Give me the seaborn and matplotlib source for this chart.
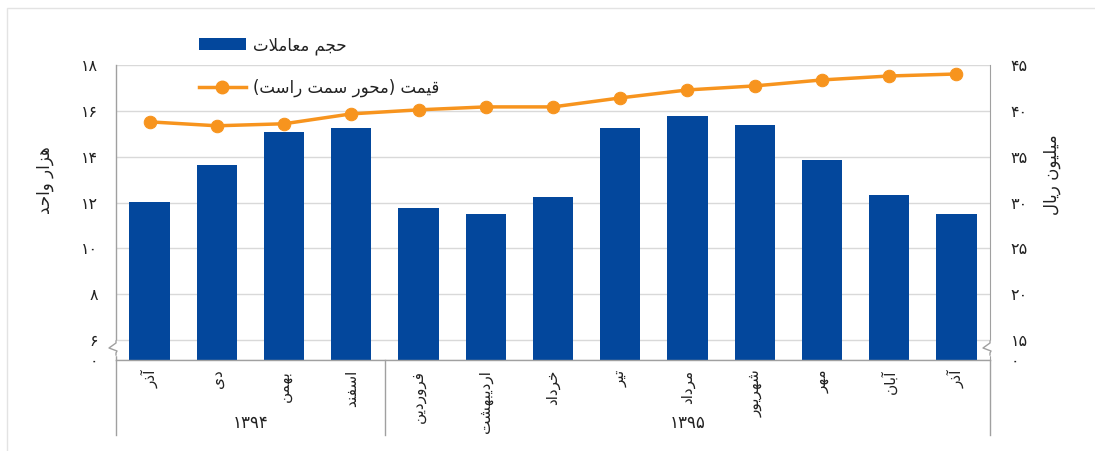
import matplotlib
matplotlib.use('Agg')
import matplotlib.pyplot as plt
import matplotlib.transforms as mtransforms
from matplotlib.patches import Patch, Rectangle
from matplotlib.lines import Line2D
import numpy as np
import pandas as pd
import seaborn as sns

# ---------------- data ----------------
months = ['آذر', 'دی', 'بهمن', 'اسفند', 'فروردین', 'اردیبهشت', 'خرداد',
          'تیر', 'مرداد', 'شهریور', 'مهر', 'آبان', 'آذر']
years = ['۱۳۹۴', '۱۳۹۵']
year_first_idx = [0, 4]
year_last_idx = [3, 12]
volume = [12.04, 13.65, 15.09, 15.26, 11.78, 11.48, 12.26, 15.26, 15.78, 15.39, 13.87, 12.35, 11.52]
price = [38.80, 38.37, 38.59, 39.67, 40.11, 40.43, 40.43, 41.41, 42.28, 42.72, 43.37, 43.80, 44.02]
left_ticks = [6, 8, 10, 12, 14, 16, 18]
right_ticks = [15, 20, 25, 30, 35, 40, 45]
series_names = ['حجم معاملات', 'قیمت (محور سمت راست)']
axis_titles = ['هزار واحد', 'میلیون ریال']

BLUE = '#03479C'
ORANGE = '#F7941E'
GRID = '#d9d9d9'
SPINE = '#a0a0a0'

# ---------------- minimal Arabic-script shaping ----------------
FORMS = {
    'ا': (0xFE8D, 0xFE8E, None, None),
    'آ': (0xFE81, 0xFE82, None, None),
    'ب': (0xFE8F, 0xFE90, 0xFE91, 0xFE92),
    'ت': (0xFE95, 0xFE96, 0xFE97, 0xFE98),
    'ج': (0xFE9D, 0xFE9E, 0xFE9F, 0xFEA0),
    'ح': (0xFEA1, 0xFEA2, 0xFEA3, 0xFEA4),
    'خ': (0xFEA5, 0xFEA6, 0xFEA7, 0xFEA8),
    'د': (0xFEA9, 0xFEAA, None, None),
    'ذ': (0xFEAB, 0xFEAC, None, None),
    'ر': (0xFEAD, 0xFEAE, None, None),
    'ز': (0xFEAF, 0xFEB0, None, None),
    'س': (0xFEB1, 0xFEB2, 0xFEB3, 0xFEB4),
    'ش': (0xFEB5, 0xFEB6, 0xFEB7, 0xFEB8),
    'ع': (0xFEC9, 0xFECA, 0xFECB, 0xFECC),
    'ف': (0xFED1, 0xFED2, 0xFED3, 0xFED4),
    'ق': (0xFED5, 0xFED6, 0xFED7, 0xFED8),
    'ل': (0xFEDD, 0xFEDE, 0xFEDF, 0xFEE0),
    'م': (0xFEE1, 0xFEE2, 0xFEE3, 0xFEE4),
    'ن': (0xFEE5, 0xFEE6, 0xFEE7, 0xFEE8),
    'ه': (0xFEE9, 0xFEEA, 0xFEEB, 0xFEEC),
    'و': (0xFEED, 0xFEEE, None, None),
    'ی': (0xFBFC, 0xFBFD, 0xFBFE, 0xFBFF),
}
LAMALEF = {'ا': (0xFEFB, 0xFEFC), 'آ': (0xFEF5, 0xFEF6)}


def shape(s):
    out = []
    i, n = 0, len(s)
    while i < n:
        c = s[i]
        if c not in FORMS:
            out.append(c)
            i += 1
            continue
        prev = s[i - 1] if i > 0 else None
        join_prev = prev in FORMS and FORMS[prev][2] is not None
        if c == 'ل' and i + 1 < n and s[i + 1] in LAMALEF:
            iso, fin = LAMALEF[s[i + 1]]
            out.append(chr(fin if join_prev else iso))
            i += 2
            continue
        nxt = s[i + 1] if i + 1 < n else None
        iso, fin, ini, med = FORMS[c]
        join_next = ini is not None and nxt in FORMS
        if join_prev and join_next:
            g = med
        elif join_prev:
            g = fin
        elif join_next:
            g = ini
        else:
            g = iso
        out.append(chr(g))
        i += 1
    mirror = {'(': ')', ')': '('}
    return ''.join(mirror.get(ch, ch) for ch in reversed(out))


def fa(num):
    return str(num).translate(str.maketrans('0123456789', '۰۱۲۳۴۵۶۷۸۹'))


# ---------------- figure ----------------
plt.rcParams['font.family'] = ['DejaVu Sans']
W, H = 1095, 451
fig = plt.figure(figsize=(W / 100, H / 100), dpi=100)
L, R, T, B = 116, 990, 65, 360
ax = fig.add_axes([L / W, 1 - B / H, (R - L) / W, (B - T) / H])

df = pd.DataFrame({'idx': np.arange(len(months)), 'volume': volume, 'price': price})
sns.barplot(data=df, x='idx', y='volume', color=BLUE, width=0.6, ax=ax,
            saturation=1, zorder=2)
for p in ax.patches:
    p.set_edgecolor('none')

ymin_l = 6 - (B - 340) / 46 * 2
ax.set_ylim(ymin_l, 18)
ax.set_xlim(-0.5, len(months) - 0.5)
ax.set_yticks([ymin_l] + left_ticks)
ax.set_yticklabels([fa(0)] + [fa(t) for t in left_ticks], fontsize=11.5, color='#222222')
ax.set_xticks(range(len(months)))
ax.set_xticklabels([shape(m) for m in months], rotation=90, fontsize=11, color='#222222')
ax.tick_params(axis='both', length=0)
ax.tick_params(axis='y', pad=13)
ax.tick_params(axis='x', pad=7)
ax.set_xlabel('')
ax.set_ylabel('')
ax.grid(axis='y', color=GRID, lw=1, zorder=0)
ax.set_axisbelow(True)
for side in ['top', 'right']:
    ax.spines[side].set_visible(False)
for side in ['left', 'bottom']:
    ax.spines[side].set_color(SPINE)
    ax.spines[side].set_linewidth(1)

ax2 = ax.twinx()
sns.lineplot(data=df, x='idx', y='price', ax=ax2, color=ORANGE, lw=2.5,
             marker='o', markersize=9, markeredgecolor=ORANGE, markerfacecolor=ORANGE)
ymin_r = 15 - (B - 340) / 46 * 5
ax2.set_ylim(ymin_r, 45)
ax2.set_xlim(-0.5, len(months) - 0.5)
ax2.set_yticks([ymin_r] + right_ticks)
ax2.set_yticklabels([fa(0)] + [fa(t) for t in right_ticks], fontsize=11.5, color='#222222')
ax2.tick_params(axis='y', length=0, pad=15)
ax2.set_ylabel('')
ax2.set_xlabel('')
ax2.grid(False)
for side in ['top', 'left', 'bottom']:
    ax2.spines[side].set_visible(False)
ax2.spines['right'].set_color(SPINE)

# category separators and year labels
trans = mtransforms.blended_transform_factory(ax.transData, ax.transAxes)
sep_depth = -(435 - B) / (B - T)
sep_pos = [-0.5] + [year_last_idx[k] + 0.5 for k in range(len(years))]
for xs in sep_pos:
    ax.plot([xs, xs], [0, sep_depth], transform=trans, color=SPINE, lw=1, clip_on=False)
for k, yr in enumerate(years):
    cx = (year_first_idx[k] + year_last_idx[k]) / 2
    ax.text(cx, -(423 - B) / (B - T), yr, transform=trans, ha='center', va='center',
            fontsize=12, color='#222222')

# axis break marks
def fx(px):
    return px / W

def fy(py):
    return 1 - py / H

for sx in (L, R):
    fig.add_artist(Line2D([fx(sx), fx(sx)], [fy(342), fy(354)], transform=fig.transFigure,
                          color='white', lw=2.5, zorder=10))
    fig.add_artist(Line2D([fx(sx), fx(sx), fx(sx - 7), fx(sx + 1), fx(sx), fx(sx)],
                          [fy(341), fy(343), fy(348), fy(351), fy(353), fy(355)],
                          transform=fig.transFigure, color=SPINE, lw=1, zorder=11))

# axis titles
fig.text(fx(45), fy(180), shape(axis_titles[0]), rotation=90, ha='center', va='center',
         fontsize=12, color='#222222')
fig.text(fx(1052), fy(175), shape(axis_titles[1]), rotation=90, ha='center', va='center',
         fontsize=12, color='#222222')

# legend
handles = [Patch(facecolor=BLUE, edgecolor='none'),
           Line2D([0], [0], color=ORANGE, lw=2.5, marker='o', markersize=9)]
leg = ax2.legend(handles, [shape(s) for s in series_names], loc='upper left',
                 bbox_to_anchor=(fx(199), fy(36)), bbox_transform=fig.transFigure,
                 frameon=False, fontsize=12, handlelength=2.8, handletextpad=0.45,
                 labelspacing=1.45, borderaxespad=0, borderpad=0)
for t in leg.get_texts():
    t.set_color('#222222')

# light outer frame
fig.add_artist(Rectangle((fx(7), -0.05), 1.2, fy(8) + 0.05, transform=fig.transFigure,
                         fill=False, edgecolor='#e3e3e3', lw=1))

fig.savefig('out.png', dpi=100)
